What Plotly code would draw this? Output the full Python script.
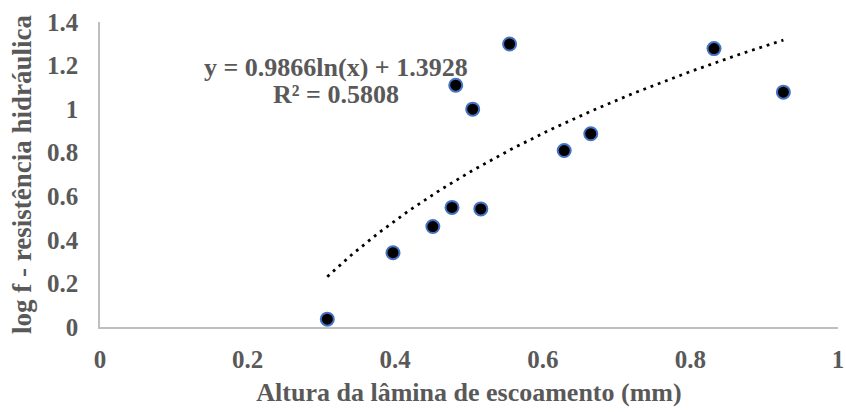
import numpy as np
import plotly.graph_objects as go

# Data
altura_mm = [0.308, 0.397, 0.451, 0.477, 0.516, 0.482, 0.505, 0.555, 0.629, 0.665, 0.832, 0.926]
log_f = [0.036, 0.341, 0.461, 0.549, 0.542, 1.110, 1.000, 1.299, 0.810, 0.887, 1.278, 1.078]

# Logarithmic trendline coefficients shown on the chart
trend_a = 0.9866
trend_b = 1.3928
r2 = 0.5808

x_tickvals = [0, 0.2, 0.4, 0.6, 0.8, 1]
x_ticktext = ["0", "0.2", "0.4", "0.6", "0.8", "1"]
y_tickvals = [0, 0.2, 0.4, 0.6, 0.8, 1, 1.2, 1.4]
y_ticktext = ["0", "0.2", "0.4", "0.6", "0.8", "1", "1.2", "1.4"]

x_title = "Altura da lâmina de escoamento (mm)"
y_title = "log f - resistência hidráulica"

TEXT = "#595959"
FONT = "Liberation Serif"

xt = np.linspace(min(altura_mm), max(altura_mm), 200)
yt = trend_a * np.log(xt) + trend_b

fig = go.Figure()
fig.add_trace(go.Scatter(
    x=xt, y=yt, mode="lines",
    line=dict(color="black", width=2.8, dash="2.8px,4.9px"),
    hoverinfo="skip", showlegend=False,
))
fig.add_trace(go.Scatter(
    x=altura_mm, y=log_f, mode="markers",
    marker=dict(color="black", size=13, line=dict(color="#4472C4", width=2)),
    showlegend=False,
))

fig.add_annotation(
    x=0.320, y=1.193, xref="x", yref="y",
    text=f"y = {trend_a}ln(x) + {trend_b}", showarrow=False,
    font=dict(family=FONT, size=26, color=TEXT, weight="bold"),
    xanchor="center", yanchor="middle",
)
fig.add_annotation(
    x=0.320, y=1.068, xref="x", yref="y",
    text=f"R² = {r2}", showarrow=False,
    font=dict(family=FONT, size=26, color=TEXT, weight="bold"),
    xanchor="center", yanchor="middle",
)

fig.update_layout(
    width=846, height=412,
    margin=dict(l=100, r=8, t=22, b=84.5),
    plot_bgcolor="white", paper_bgcolor="white",
    font=dict(family=FONT, color=TEXT),
    xaxis=dict(
        range=[0, 1], tickvals=x_tickvals, ticktext=x_ticktext,
        automargin=False,
        showgrid=False, zeroline=False, showline=True,
        linecolor="#BFBFBF", linewidth=1.5, ticks="",
        tickfont=dict(family=FONT, size=25, color=TEXT, weight="bold"),
        ticklabelstandoff=9,
        title=dict(text=x_title, standoff=11,
                   font=dict(family=FONT, size=26, color=TEXT, weight="bold")),
    ),
    yaxis=dict(
        range=[0, 1.4], tickvals=y_tickvals, ticktext=y_ticktext,
        automargin=False,
        showgrid=False, zeroline=False, showline=True,
        linecolor="#BFBFBF", linewidth=1.5, ticks="",
        tickfont=dict(family=FONT, size=25, color=TEXT, weight="bold"),
        ticklabelstandoff=15,
        title=dict(text=y_title, standoff=8,
                   font=dict(family=FONT, size=27, color=TEXT, weight="bold")),
    ),
)

fig.write_html(
    "out.html",
    config={"displayModeBar": False},
    post_script="document.body.style.margin='0';document.body.style.overflow='hidden';",
)
